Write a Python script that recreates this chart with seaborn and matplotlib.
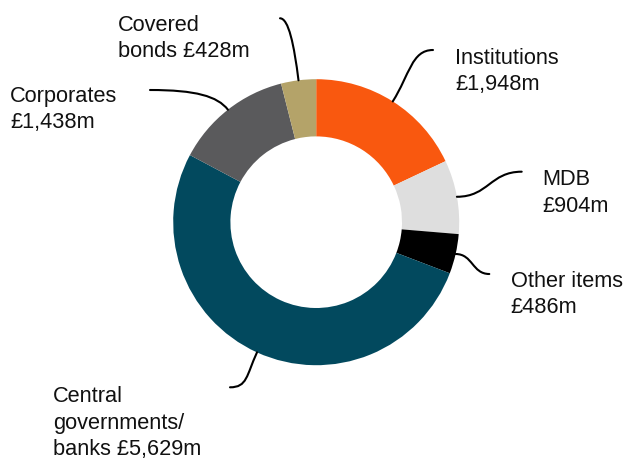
import numpy as np
import matplotlib
matplotlib.use("Agg")
import matplotlib.pyplot as plt
from matplotlib.path import Path
from matplotlib.patches import PathPatch
import seaborn as sns

# ---- data ----
categories = ["Institutions", "MDB", "Other items", "Central governments/ banks",
              "Corporates", "Covered bonds"]
values = [1948, 904, 486, 5629, 1438, 428]
labels = ["Institutions\n£1,948m", "MDB\n£904m", "Other items\n£486m",
          "Central\ngovernments/\nbanks £5,629m", "Corporates\n£1,438m",
          "Covered\nbonds £428m"]
colors = ["#F9580F", "#DEDEDE", "#000000", "#02495E", "#5A5A5C", "#B4A369"]

sns.set_theme(style="white")
plt.rcParams["font.family"] = ["Liberation Sans", "DejaVu Sans"]

W, H, DPI = 6.25, 4.59, 100
fig = plt.figure(figsize=(W, H), dpi=DPI)
ax = fig.add_axes([0, 0, 1, 1])

R = 143.0            # pixels per data unit (outer radius)
cx, cy = 316.2, 222.2  # pie centre in pixels (from top-left)

def px(x, y):
    return ((x - cx) / R, (cy - y) / R)

wedges, _ = ax.pie(values, colors=colors, startangle=90, counterclock=False,
                   radius=1.0, wedgeprops=dict(width=0.4, linewidth=0))

# label anchors (last-line baseline, left edge) and leader ends, in pixels
label_pos = [(455, 90), (542, 211.7), (510.7, 313.3), (53, 455), (10, 128.3), (118, 57.3)]
leader_end = [(433, 50), (521.7, 171.7), (489.3, 274), (230, 387.3), (150, 90), (280, 18.3)]
start_mode = ["radial", "horiz", "horiz", "radial", "radial", "radial"]
start_len = [0.22, 0.22, 0.12, 0.18, 0.12, 0.25]
end_dx = [-0.15, -0.22, -0.12, 0.12, 0.32, 0.06]

for w, lab, lp, le, sm, sl, edx in zip(wedges, labels, label_pos, leader_end,
                                        start_mode, start_len, end_dx):
    ang = np.deg2rad((w.theta1 + w.theta2) / 2)
    p0 = np.array([np.cos(ang), np.sin(ang)])
    if sm == "radial":
        p1 = p0 + sl * np.array([np.cos(ang), np.sin(ang)])
    else:
        p1 = p0 + np.array([sl * np.sign(np.cos(ang)), 0])
    p3 = np.array(px(*le))
    p2 = p3 + np.array([edx, 0])
    path = Path([p0, p1, p2, p3], [Path.MOVETO, Path.CURVE4, Path.CURVE4, Path.CURVE4])
    ax.add_patch(PathPatch(path, fill=False, lw=1.5, color="black", capstyle="round"))
    tx, ty = px(*lp)
    ax.text(tx, ty, lab, ha="left", va="baseline", fontsize=15.7,
            color="#111111", linespacing=1.34, multialignment="left")

ax.set_xlim(-cx / R, (W * DPI - cx) / R)
ax.set_ylim(-(H * DPI - cy) / R, cy / R)
ax.set_aspect("auto")
ax.axis("off")

fig.savefig("out.png", dpi=DPI, facecolor="white")
